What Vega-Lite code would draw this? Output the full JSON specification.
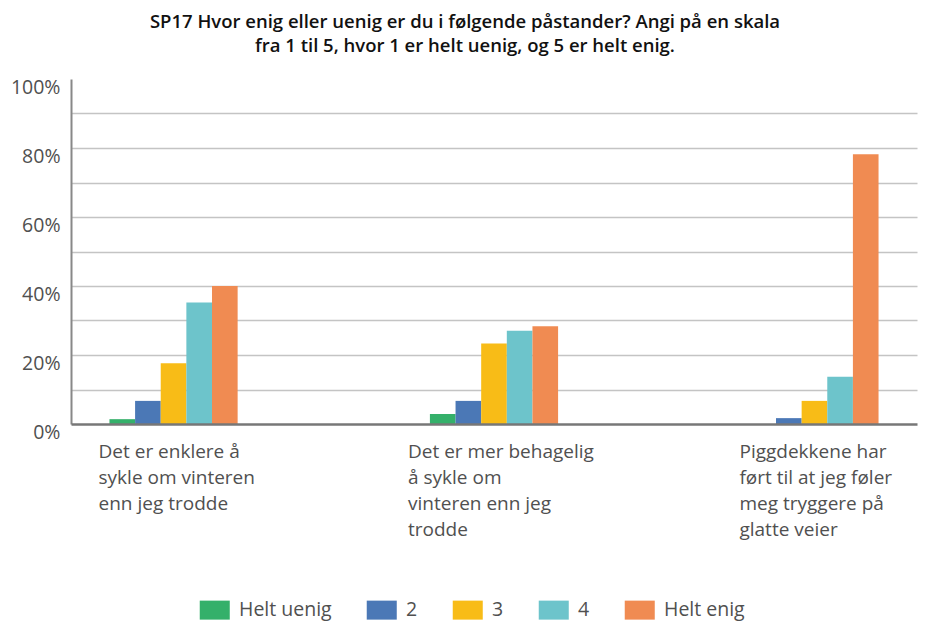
{
  "$schema": "https://vega.github.io/schema/vega-lite/v6.json",
  "width": 846,
  "height": 345,
  "autosize": "none",
  "padding": {"left": 71, "top": 79, "right": 14, "bottom": 200},
  "background": "white",
  "title": {
    "text": ["SP17 Hvor enig eller uenig er du i følgende påstander? Angi på en skala", "fra 1 til 5, hvor 1 er helt uenig, og 5 er helt enig."],
    "font": "Open Sans",
    "fontSize": 18.5,
    "fontWeight": 600,
    "color": "#111",
    "lineHeight": 24,
    "anchor": "middle",
    "dx": -29,
    "offset": 22
  },
  "data": {
    "values": [
      {"statement": "Det er enklere å|sykle om vinteren|enn jeg trodde", "response": "Helt uenig", "value": 1.4},
      {"statement": "Det er enklere å|sykle om vinteren|enn jeg trodde", "response": "2", "value": 6.7},
      {"statement": "Det er enklere å|sykle om vinteren|enn jeg trodde", "response": "3", "value": 17.6},
      {"statement": "Det er enklere å|sykle om vinteren|enn jeg trodde", "response": "4", "value": 35.2},
      {"statement": "Det er enklere å|sykle om vinteren|enn jeg trodde", "response": "Helt enig", "value": 40.0},
      {"statement": "Det er mer behagelig|å sykle om|vinteren enn jeg|trodde", "response": "Helt uenig", "value": 2.9},
      {"statement": "Det er mer behagelig|å sykle om|vinteren enn jeg|trodde", "response": "2", "value": 6.7},
      {"statement": "Det er mer behagelig|å sykle om|vinteren enn jeg|trodde", "response": "3", "value": 23.3},
      {"statement": "Det er mer behagelig|å sykle om|vinteren enn jeg|trodde", "response": "4", "value": 27.0},
      {"statement": "Det er mer behagelig|å sykle om|vinteren enn jeg|trodde", "response": "Helt enig", "value": 28.3},
      {"statement": "Piggdekkene har|ført til at jeg føler|meg tryggere på|glatte veier", "response": "Helt uenig", "value": 0},
      {"statement": "Piggdekkene har|ført til at jeg føler|meg tryggere på|glatte veier", "response": "2", "value": 1.7},
      {"statement": "Piggdekkene har|ført til at jeg føler|meg tryggere på|glatte veier", "response": "3", "value": 6.7},
      {"statement": "Piggdekkene har|ført til at jeg føler|meg tryggere på|glatte veier", "response": "4", "value": 13.7},
      {"statement": "Piggdekkene har|ført til at jeg føler|meg tryggere på|glatte veier", "response": "Helt enig", "value": 78.2}
    ]
  },
  "mark": {"type": "bar"},
  "encoding": {
    "x": {
      "field": "statement",
      "type": "nominal",
      "sort": null,
      "scale": {"paddingInner": 0.6, "paddingOuter": 0.12},
      "axis": {
        "title": null,
        "labelAngle": 0,
        "labelAlign": "left",
        "labelBaseline": "top",
        "labelExpr": "split(datum.label, '|')",
        "labelOffset": {"condition": {"test": "indexof(datum.value, 'behagelig') >= 0", "value": -86}, "value": -75},
        "labelPadding": 18,
        "labelLineHeight": 26,
        "labelFont": "Open Sans",
        "labelFontSize": 19,
        "labelColor": "#505050",
        "labelLimit": 300,
        "ticks": false,
        "domainColor": "#777",
        "domainWidth": 2.5,
        "zindex": 1
      }
    },
    "xOffset": {
      "field": "response",
      "type": "nominal",
      "sort": ["Helt uenig", "2", "3", "4", "Helt enig"],
      "scale": {"paddingInner": 0, "paddingOuter": 0}
    },
    "y": {
      "field": "value",
      "type": "quantitative",
      "scale": {"domain": [0, 100], "nice": false},
      "axis": {
        "title": null,
        "values": [0, 10, 20, 30, 40, 50, 60, 70, 80, 90, 100],
        "labelExpr": "datum.value % 20 == 0 ? datum.value + '%' : ''",
        "labelOffset": 8,
        "labelPadding": 11,
        "labelFont": "Open Sans",
        "labelFontSize": 19.5,
        "labelColor": "#505050",
        "ticks": false,
        "domainColor": "#888",
        "domainWidth": 2,
        "grid": true,
        "gridColor": "#c4c4c4",
        "gridWidth": 1.5,
        "gridOpacity": {"condition": {"test": "datum.value == 100 || datum.value == 0", "value": 0}, "value": 1}
      }
    },
    "color": {
      "field": "response",
      "type": "nominal",
      "sort": ["Helt uenig", "2", "3", "4", "Helt enig"],
      "scale": {
        "domain": ["Helt uenig", "2", "3", "4", "Helt enig"],
        "range": ["#34b06a", "#4b78b6", "#f8bc17", "#6dc4cb", "#f08b52"]
      },
      "legend": {
        "title": null,
        "orient": "none",
        "direction": "horizontal",
        "legendX": 134,
        "legendY": 521,
        "symbolType": "M-1.58,-1H1.58V1H-1.58Z",
        "symbolSize": 361,
        "symbolStrokeWidth": 0,
        "symbolOpacity": 1,
        "labelFont": "Open Sans",
        "labelFontSize": 19.5,
        "labelColor": "#505050",
        "labelOffset": 14.5,
        "columnPadding": 34
      }
    }
  },
  "config": {
    "view": {"stroke": null}
  }
}
